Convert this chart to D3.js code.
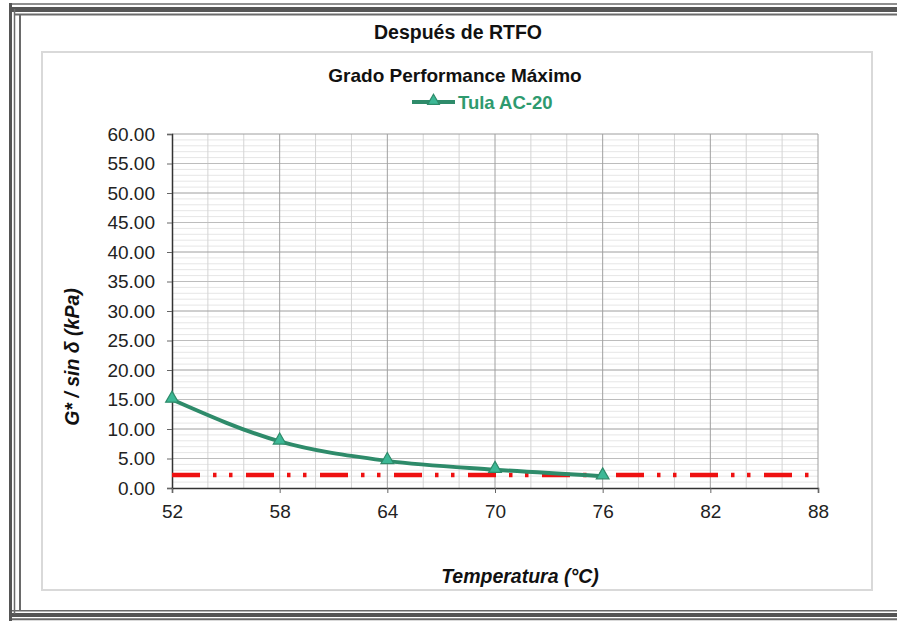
<!DOCTYPE html>
<html><head><meta charset="utf-8">
<script src="https://cdn.jsdelivr.net/npm/d3@7"></script>
<style>
html,body{margin:0;padding:0;background:#fff;}
svg{display:block;font-family:"Liberation Sans",Arial,sans-serif;}
</style></head>
<body>
<svg id="c" width="897" height="621"></svg>
<script>
// ---- data ----
const temps = [52, 58, 64, 70, 76];
const tulaValues = [15.0, 7.9, 4.6, 3.1, 2.0];
const specLimit = 2.2;
const xTicks = [52, 58, 64, 70, 76, 82, 88];
const yTicks = [0, 5, 10, 15, 20, 25, 30, 35, 40, 45, 50, 55, 60];
const seriesName = "Tula AC-20";
const titleText = "Después de RTFO";
const subtitleText = "Grado Performance Máximo";
const xLabel = "Temperatura (°C)";
const yLabel = "G* / sin δ (kPa)";

const svg = d3.select("#c");
const W = 897, H = 621;
const plot = {l: 172, r: 818, t: 134, b: 488};

// ---- outer decorative frame ----
const fr = svg.append("g");
function ln(x1,y1,x2,y2,w,c){fr.append("line").attr("x1",x1).attr("y1",y1).attr("x2",x2).attr("y2",y2).attr("stroke",c).attr("stroke-width",w);}
// top
ln(9,4,W+5,4,1.5,"#6a6a6a");
ln(12,9.5,W+5,9.5,5,"#555");
ln(14,14.5,W+5,14.5,2,"#6a6a6a");
// bottom
ln(9,610.8,W+5,610.8,1.5,"#6a6a6a");
ln(12,615,W+5,615,4,"#555");
ln(9,619.2,W+5,619.2,2,"#6a6a6a");
// left
ln(10.5,3,10.5,621,3,"#555");
ln(14.5,9,14.5,614,1.5,"#6a6a6a");
ln(20,14,20,611,2,"#6a6a6a");

// ---- inner chart area box ----
svg.append("rect").attr("x",42).attr("y",52).attr("width",830).attr("height",538)
  .attr("fill","#fff").attr("stroke","#d9d9d9").attr("stroke-width",2);

// ---- scales ----
const x = d3.scaleLinear().domain([52, 88]).range([plot.l, plot.r]);
const y = d3.scaleLinear().domain([0, 60]).range([plot.b, plot.t]);

// ---- gridlines ----
const g = svg.append("g");
const minorY = d3.range(1, 60).filter(v => v % 5 !== 0);
g.selectAll(".gmy").data(minorY).enter().append("line")
  .attr("x1",plot.l).attr("x2",plot.r).attr("y1",d=>y(d)).attr("y2",d=>y(d))
  .attr("stroke","#e6e6e6").attr("stroke-width",1);
const minorX = d3.range(54, 88, 2).filter(v => (v-52) % 6 !== 0);
g.selectAll(".gmx").data(minorX).enter().append("line")
  .attr("y1",plot.t).attr("y2",plot.b).attr("x1",d=>x(d)).attr("x2",d=>x(d))
  .attr("stroke","#d4d4d4").attr("stroke-width",1);
g.selectAll(".gMy").data(yTicks.filter(v=>v>0)).enter().append("line")
  .attr("x1",plot.l).attr("x2",plot.r).attr("y1",d=>y(d)).attr("y2",d=>y(d))
  .attr("stroke",d=> d % 10 === 0 ? "#9e9e9e" : "#bdbdbd").attr("stroke-width",1);
g.selectAll(".gMx").data(xTicks.filter(v=>v>52)).enter().append("line")
  .attr("y1",plot.t).attr("y2",plot.b).attr("x1",d=>x(d)).attr("x2",d=>x(d))
  .attr("stroke","#a0a0a0").attr("stroke-width",1);

// ---- axes ----
const yAxis = d3.axisLeft(y).tickValues(yTicks).tickFormat(d3.format(".2f")).tickSize(5).tickPadding(12);
const xAxis = d3.axisBottom(x).tickValues(xTicks).tickFormat(d3.format("d")).tickSize(5).tickPadding(8);
const ya = svg.append("g").attr("transform",`translate(${plot.l},0)`).call(yAxis);
const xa = svg.append("g").attr("transform",`translate(0,${plot.b})`).call(xAxis);
[ya, xa].forEach(a => {
  a.select(".domain").attr("stroke","#333").attr("stroke-width",1.5);
  a.selectAll(".tick line").attr("stroke","#666");
  a.selectAll(".tick text").attr("fill","#222").style("font-size","19px")
    .style("font-family","'Liberation Sans',Arial,sans-serif");
});
xa.selectAll(".tick text").attr("dy","0.9em");

// ---- spec limit line ----
svg.append("line")
  .attr("x1", x(52)).attr("x2", x(88)).attr("y1", y(specLimit)).attr("y2", y(specLimit))
  .attr("stroke","#ee1111").attr("stroke-width",4.5)
  .attr("stroke-dasharray","28,13,3.5,12.5,3.5,13.5");

// ---- series ----
const pts = temps.map((t,i)=>({t, v: tulaValues[i]}));
const lineGen = d3.line().x(d=>x(d.t)).y(d=>y(d.v)).curve(d3.curveMonotoneX);
svg.append("path").datum(pts).attr("d", lineGen)
  .attr("fill","none").attr("stroke","#2e8b6a").attr("stroke-width",4);
const tri = d3.symbol().type(d3.symbolTriangle).size(70);
svg.selectAll(".mk").data(pts).enter().append("path")
  .attr("d", tri).attr("transform", d=>`translate(${x(d.t)},${y(d.v)-1})`)
  .attr("fill","#3cb896").attr("stroke","#2e8b6a").attr("stroke-width",1.2);

// ---- titles ----
svg.append("text").attr("x",458).attr("y",39).attr("text-anchor","middle")
  .style("font-size","19.5px").style("font-weight","bold").attr("fill","#111").text(titleText);
svg.append("text").attr("x",455).attr("y",82).attr("text-anchor","middle")
  .style("font-size","19px").style("font-weight","bold").attr("fill","#111").text(subtitleText);

// ---- legend ----
svg.append("line").attr("x1",412).attr("x2",455).attr("y1",102).attr("y2",102)
  .attr("stroke","#2e8b6a").attr("stroke-width",4);
svg.append("path").attr("d", d3.symbol().type(d3.symbolTriangle).size(60))
  .attr("transform","translate(433.5,101)").attr("fill","#3cb896").attr("stroke","#2e8b6a").attr("stroke-width",1.2);
svg.append("text").attr("x",458).attr("y",109)
  .style("font-size","18.5px").style("font-weight","bold").attr("fill","#2e9a6e").text(seriesName);

// ---- axis titles ----
svg.append("text").attr("x",520).attr("y",583).attr("text-anchor","middle")
  .style("font-size","19.5px").style("font-weight","bold").style("font-style","italic")
  .attr("fill","#111").text(xLabel);
svg.append("text").attr("transform","translate(79,357) rotate(-90)").attr("text-anchor","middle")
  .style("font-size","19.5px").style("font-weight","bold").style("font-style","italic")
  .attr("fill","#111").text(yLabel);
</script>
</body></html>
